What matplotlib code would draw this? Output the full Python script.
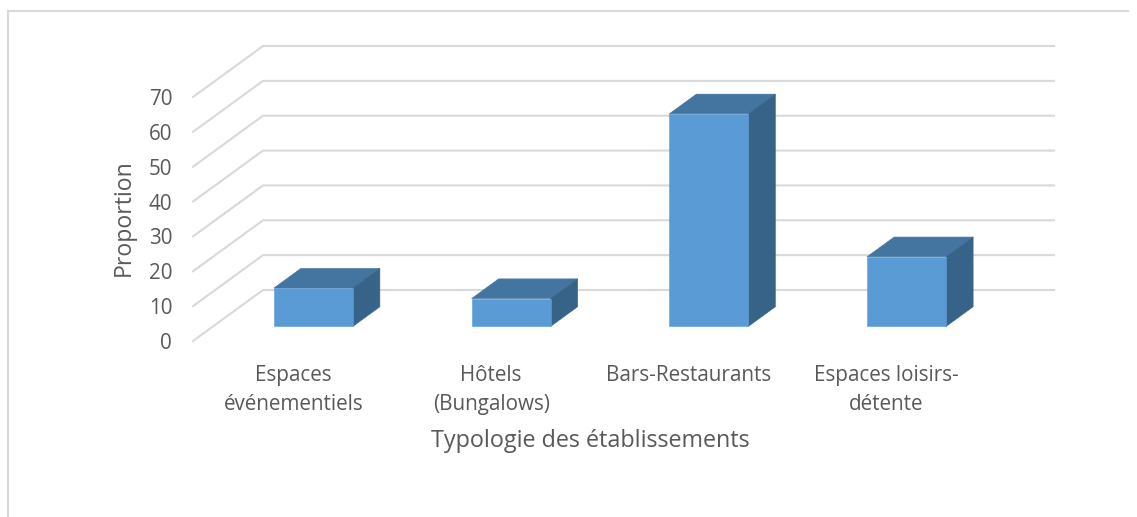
import matplotlib
matplotlib.use("Agg")
import matplotlib.pyplot as plt
from matplotlib.patches import Polygon
from matplotlib.lines import Line2D

categories = ["Espaces\névénementiels", "Hôtels\n(Bungalows)", "Bars-Restaurants", "Espaces loisirs-\ndétente"]
values = [11, 8, 61, 20]
y_ticks = [0, 10, 20, 30, 40, 50, 60, 70]
x_title = "Typologie des établissements"
y_title = "Proportion"

W, H = 1137, 517
plt.rcParams["font.family"] = "Open Sans"
fig = plt.figure(figsize=(W / 100, H / 100), dpi=100, facecolor="white")

# front plane of the 3D box, in pixels
L, R, T, B = 193, 984, 97, 341
ax = fig.add_axes([L / W, 1 - B / H, (R - L) / W, (B - T) / H])
ax.set_xlim(0, len(categories))
ax.set_ylim(0, 70)
ax.patch.set_alpha(0)
for s in ax.spines.values():
    s.set_visible(False)

BAND = (R - L) / len(categories)
DX = 70 / BAND          # full depth, in category units
DY = 51 / ((B - T) / 70)  # full depth, in value units
GRID = "#d9d9d9"
SHIFT = 1.5 / BAND


def p(x, y, d):
    return (x + d * DX, y + d * DY)


for v in y_ticks:
    a, b, c = p(0, v, 0), p(0, v, 1), p(len(categories), v, 1)
    ax.plot([a[0], b[0], c[0]], [a[1], b[1], c[1]], color=GRID, lw=1.5, clip_on=False, zorder=1,
            solid_joinstyle="miter")

D0, D1 = 20 / 70, 47 / 70
WID = 79 / BAND
for i, v in enumerate(values):
    x0 = i + 0.5 - WID / 2 + SHIFT
    x1 = x0 + WID
    front = [p(x0, 0, D0), p(x1, 0, D0), p(x1, v, D0), p(x0, v, D0)]
    top = [p(x0, v, D0), p(x1, v, D0), p(x1, v, D1), p(x0, v, D1)]
    side = [p(x1, 0, D0), p(x1, 0, D1), p(x1, v, D1), p(x1, v, D0)]
    for pts, col in ((top, "#4475a1"), (side, "#386389"), (front, "#5b9bd5")):
        ax.add_patch(Polygon(pts, closed=True, facecolor=col, edgecolor=col, lw=0.4,
                             clip_on=False, zorder=3))

ax.set_yticks(y_ticks)
ax.set_xticks([i + 0.5 + SHIFT for i in range(len(categories))])
ax.set_xticklabels(categories, linespacing=1.5, va="top")
ax.tick_params(axis="both", length=0, labelsize=14.9, labelcolor="#595959")
ax.tick_params(axis="y", pad=15)
ax.tick_params(axis="x", pad=17)

fig.text(590 / W, 1 - 441 / H, x_title, ha="center", va="center", fontsize=16.8, color="#595959")
fig.text(124 / W, 1 - 218 / H, y_title, ha="center", va="center", rotation=90, fontsize=16.6, color="#595959")

# chart-area frame
frame = "#d9d9d9"
fig.add_artist(Line2D([8 / W, 8 / W], [0, 1 - 11 / H], color=frame, lw=1.5))
fig.add_artist(Line2D([8 / W, 1128 / W], [1 - 11 / H, 1 - 11 / H], color=frame, lw=1.5))

fig.savefig("out.png", dpi=100)
